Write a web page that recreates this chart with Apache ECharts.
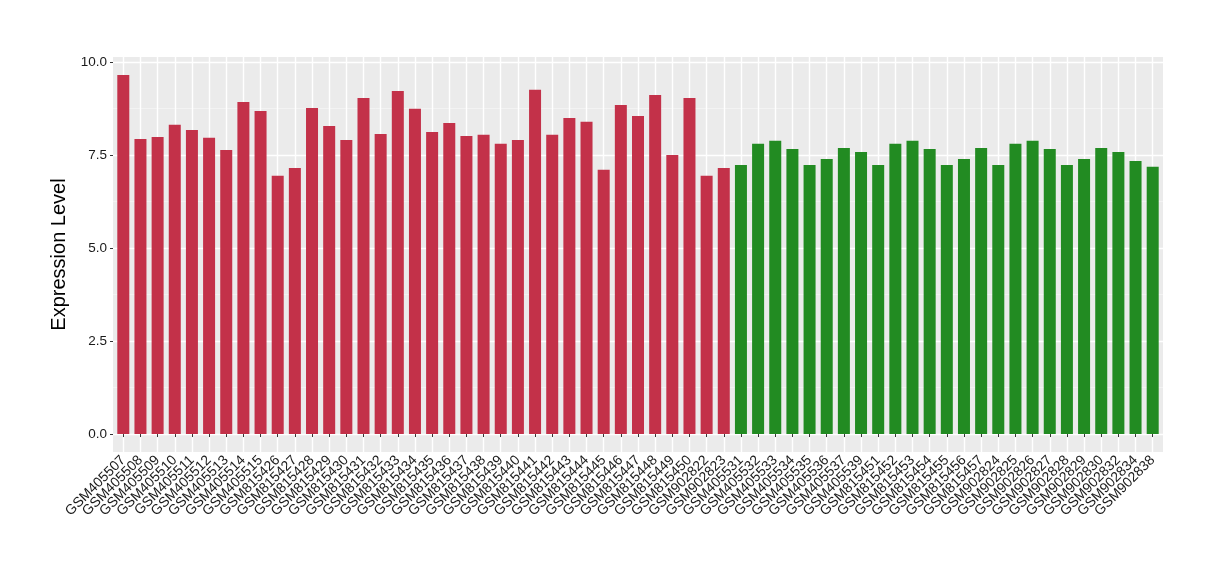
<!DOCTYPE html>
<html>
<head>
<meta charset="utf-8">
<script src="https://cdn.jsdelivr.net/npm/echarts@6/dist/echarts.min.js"></script>
<style>html,body{margin:0;padding:0;background:#fff}#c{width:1220px;height:580px}</style>
</head>
<body>
<div id="c"></div>
<script>
const redSamples = ["GSM405507","GSM405508","GSM405509","GSM405510","GSM405511","GSM405512","GSM405513","GSM405514","GSM405515",
  "GSM815426","GSM815427","GSM815428","GSM815429","GSM815430","GSM815431","GSM815432","GSM815433","GSM815434","GSM815435",
  "GSM815436","GSM815437","GSM815438","GSM815439","GSM815440","GSM815441","GSM815442","GSM815443","GSM815444","GSM815445",
  "GSM815446","GSM815447","GSM815448","GSM815449","GSM815450","GSM902822","GSM902823"];
const redValues = [9.65,7.93,7.98,8.31,8.17,7.96,7.63,8.92,8.68,
  6.94,7.15,8.76,8.28,7.90,9.03,8.06,9.22,8.74,8.12,
  8.36,8.01,8.04,7.80,7.90,9.25,8.04,8.49,8.39,7.10,
  8.84,8.55,9.11,7.50,9.03,6.94,7.15];
const greenSamples = ["GSM405531","GSM405532","GSM405533","GSM405534","GSM405535","GSM405536","GSM405537","GSM405539",
  "GSM815451","GSM815452","GSM815453","GSM815454","GSM815455","GSM815456","GSM815457",
  "GSM902824","GSM902825","GSM902826","GSM902827","GSM902828","GSM902829","GSM902830","GSM902832","GSM902834","GSM902838"];
const greenValues = [7.23,7.80,7.88,7.66,7.23,7.39,7.69,7.58,
  7.23,7.80,7.88,7.66,7.23,7.39,7.69,
  7.23,7.80,7.88,7.66,7.23,7.39,7.69,7.58,7.34,7.18];
const yTicks = [0, 2.5, 5, 7.5, 10];
const yMinorTicks = [1.25, 3.75, 6.25, 8.75];

const redColor = '#C33149', greenColor = '#228B22';
const categories = redSamples.concat(greenSamples);
const barData = redValues.map(v => ({value: v, itemStyle: {color: redColor}}))
  .concat(greenValues.map(v => ({value: v, itemStyle: {color: greenColor}})));

const allVals = redValues.concat(greenValues);
const dmax = Math.max(...allVals);
const yMin = -0.05 * dmax, yMax = dmax * 1.05;

const font = 'Liberation Sans, Arial, Helvetica, sans-serif';
const chart = echarts.init(document.getElementById('c'), null, {renderer: 'canvas'});
chart.setOption({
  animation: false,
  backgroundColor: '#fff',
  grid: [
    {left: 113, right: 57, top: 57, bottom: 128, show: true, backgroundColor: '#EBEBEB', borderWidth: 0},
    {left: 123.3, right: 67.3, top: 57, bottom: 128}
  ],
  xAxis: [
    {type: 'value', gridIndex: 0, show: false, min: 0, max: 1},
    {type: 'category', gridIndex: 1, data: categories, boundaryGap: false,
     axisLine: {show: false},
     axisTick: {show: true, length: 3, lineStyle: {color: '#333', width: 1}, alignWithLabel: true, interval: 0},
     axisLabel: {interval: 0, rotate: 45, fontSize: 14, color: '#1A1A1A', fontFamily: font, margin: 6},
     splitLine: {show: true, interval: 0, lineStyle: {color: '#FFFFFF', width: 1.4}}}
  ],
  yAxis: [
    {type: 'value', gridIndex: 0, min: yMin, max: yMax,
     name: 'Expression Level', nameLocation: 'middle', nameGap: 38,
     nameTextStyle: {fontSize: 20, color: '#000', fontFamily: font},
     axisLine: {show: false},
     axisTick: {show: true, length: 3, customValues: yTicks, lineStyle: {color: '#333'}},
     axisLabel: {customValues: yTicks, fontSize: 13.5, color: '#1A1A1A', fontFamily: font, margin: 6,
       formatter: v => v.toFixed(1)},
     splitLine: {show: true, lineStyle: {color: '#FFFFFF', width: 1.4}}},
    {type: 'value', gridIndex: 0, min: yMin, max: yMax,
     axisLine: {show: false},
     axisTick: {show: false, customValues: yMinorTicks},
     axisLabel: {show: false, customValues: yMinorTicks},
     splitLine: {show: true, lineStyle: {color: '#F7F7F7', width: 0.7}}},
    {type: 'value', gridIndex: 1, min: yMin, max: yMax, show: false, splitLine: {show: false}}
  ],
  series: [{
    type: 'bar', xAxisIndex: 1, yAxisIndex: 2,
    data: barData, barWidth: 12
  }]
});
</script>
</body>
</html>
